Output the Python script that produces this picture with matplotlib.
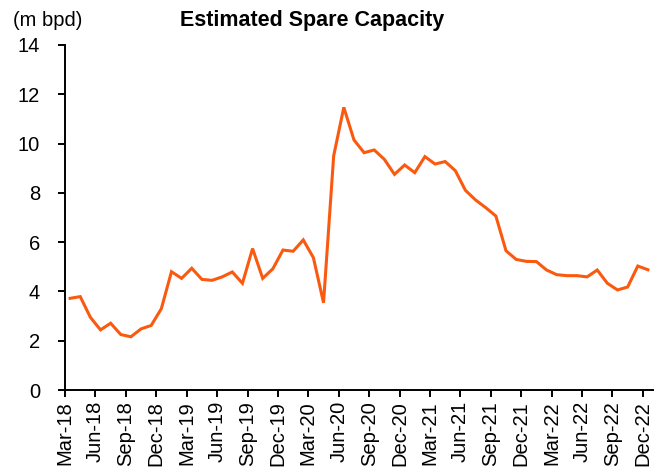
import matplotlib
matplotlib.use("Agg")
import matplotlib.pyplot as plt

plt.rcParams['font.family'] = ['Liberation Sans', 'DejaVu Sans']

months = ["Mar-18", "Apr-18", "May-18", "Jun-18", "Jul-18", "Aug-18", "Sep-18", "Oct-18", "Nov-18", "Dec-18",
          "Jan-19", "Feb-19", "Mar-19", "Apr-19", "May-19", "Jun-19", "Jul-19", "Aug-19", "Sep-19", "Oct-19",
          "Nov-19", "Dec-19", "Jan-20", "Feb-20", "Mar-20", "Apr-20", "May-20", "Jun-20", "Jul-20", "Aug-20",
          "Sep-20", "Oct-20", "Nov-20", "Dec-20", "Jan-21", "Feb-21", "Mar-21", "Apr-21", "May-21", "Jun-21",
          "Jul-21", "Aug-21", "Sep-21", "Oct-21", "Nov-21", "Dec-21", "Jan-22", "Feb-22", "Mar-22", "Apr-22",
          "May-22", "Jun-22", "Jul-22", "Aug-22", "Sep-22", "Oct-22", "Nov-22", "Dec-22"]

spare_capacity = [3.72, 3.79, 2.95, 2.44, 2.71, 2.25, 2.16, 2.48, 2.62, 3.30,
                  4.80, 4.53, 4.94, 4.49, 4.45, 4.59, 4.79, 4.33, 5.74, 4.53,
                  4.92, 5.68, 5.63, 6.09, 5.37, 3.54, 9.50, 11.47, 10.15, 9.63,
                  9.74, 9.36, 8.75, 9.13, 8.82, 9.47, 9.17, 9.27, 8.90, 8.10,
                  7.71, 7.40, 7.06, 5.65, 5.30, 5.22, 5.21, 4.87, 4.68, 4.64,
                  4.64, 4.59, 4.87, 4.33, 4.06, 4.18, 5.03, 4.88]

yticks = [0, 2, 4, 6, 8, 10, 12, 14]
title = "Estimated Spare Capacity"
unit_label = "(m bpd)"
line_color = "#FA5A0F"

fig = plt.figure(figsize=(6.67, 4.72), dpi=100)
ax = fig.add_axes([0.0975, 0.1737, 0.8815, 0.731])

x = list(range(len(months)))
ax.plot(x, spare_capacity, color=line_color, linewidth=2.2, solid_joinstyle='miter')

tick_pos = [i - 0.5 for i in range(0, len(months), 3)]
tick_lab = [months[i] for i in range(0, len(months), 3)]
ax.set_xticks(tick_pos)
ax.set_xticklabels(tick_lab, rotation=90, fontsize=14.5)
ax.set_xlim(-0.5, len(months) - 0.5)
ax.set_ylim(0, 14)
ax.set_yticks(yticks)
ax.set_yticklabels([str(v) for v in yticks], fontsize=14.5)

for s in ['top', 'right']:
    ax.spines[s].set_visible(False)
for s in ['left', 'bottom']:
    ax.spines[s].set_linewidth(1.4)
ax.tick_params(axis='both', direction='out', length=5, width=1.4)
ax.tick_params(axis='x', pad=3)
ax.tick_params(axis='y', pad=13)

fig.text(0.468, 0.957, title, ha='center', va='center', fontsize=15.5, fontweight='bold')
fig.text(0.02, 0.957, unit_label, ha='left', va='center', fontsize=14.5)

fig.savefig("out.png", dpi=100)
